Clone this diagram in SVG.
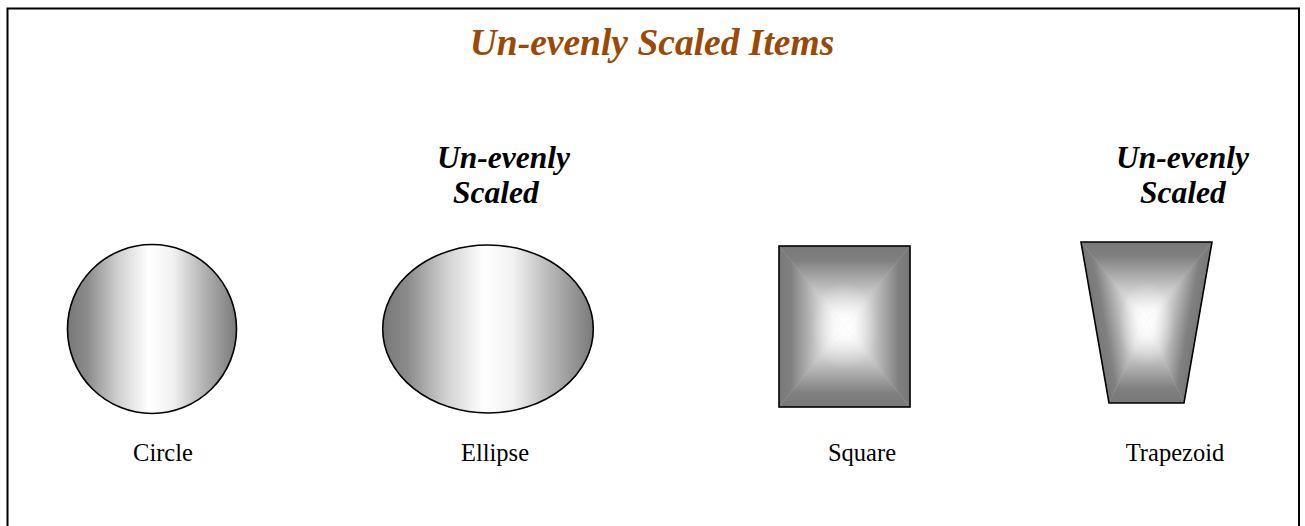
<svg xmlns="http://www.w3.org/2000/svg" width="1305" height="526" viewBox="0 0 1305 526">
<style>
.title{font-family:"Liberation Serif","Times New Roman",serif;font-size:37.5px;font-weight:bold;font-style:italic;fill:#9a4a06}
.note{font-family:"Liberation Serif","Times New Roman",serif;font-size:31.5px;font-weight:bold;font-style:italic;fill:#000}
.lbl{font-family:"Liberation Serif","Times New Roman",serif;font-size:24.5px;fill:#000;text-anchor:middle}
.outline{fill:none;stroke:#000;stroke-width:1.6}
</style>
<defs>
<linearGradient id="hband" x1="0" y1="0" x2="1" y2="0">
<stop offset="0" stop-color="#777"/>
<stop offset="0.12" stop-color="#8c8c8c"/>
<stop offset="0.3" stop-color="#d0d0d0"/>
<stop offset="0.48" stop-color="#fff"/>
<stop offset="0.62" stop-color="#f2f2f2"/>
<stop offset="0.8" stop-color="#b5b5b5"/>
<stop offset="1" stop-color="#7a7a7a"/>
</linearGradient>
<linearGradient id="gT" x1="0" y1="0" x2="0" y2="1"><stop offset="0" stop-color="#787878"/><stop offset="0.18" stop-color="#808080"/><stop offset="0.55" stop-color="#c4c4c4"/><stop offset="0.85" stop-color="#f6f6f6"/><stop offset="1" stop-color="#fff"/></linearGradient>
<linearGradient id="gB" x1="0" y1="1" x2="0" y2="0"><stop offset="0" stop-color="#787878"/><stop offset="0.18" stop-color="#808080"/><stop offset="0.55" stop-color="#c4c4c4"/><stop offset="0.85" stop-color="#f6f6f6"/><stop offset="1" stop-color="#fff"/></linearGradient>
<linearGradient id="gL" x1="0" y1="0" x2="1" y2="0"><stop offset="0" stop-color="#787878"/><stop offset="0.18" stop-color="#808080"/><stop offset="0.55" stop-color="#c4c4c4"/><stop offset="0.85" stop-color="#f6f6f6"/><stop offset="1" stop-color="#fff"/></linearGradient>
<linearGradient id="gR" x1="1" y1="0" x2="0" y2="0"><stop offset="0" stop-color="#787878"/><stop offset="0.18" stop-color="#808080"/><stop offset="0.55" stop-color="#c4c4c4"/><stop offset="0.85" stop-color="#f6f6f6"/><stop offset="1" stop-color="#fff"/></linearGradient>
<linearGradient id="tT" gradientUnits="userSpaceOnUse" x1="1146.5" y1="242" x2="1146.5" y2="322"><stop offset="0" stop-color="#787878"/><stop offset="0.18" stop-color="#808080"/><stop offset="0.55" stop-color="#c4c4c4"/><stop offset="0.85" stop-color="#f6f6f6"/><stop offset="1" stop-color="#fff"/></linearGradient>
<linearGradient id="tB" gradientUnits="userSpaceOnUse" x1="1146.5" y1="403" x2="1146.5" y2="322"><stop offset="0" stop-color="#787878"/><stop offset="0.18" stop-color="#808080"/><stop offset="0.55" stop-color="#c4c4c4"/><stop offset="0.85" stop-color="#f6f6f6"/><stop offset="1" stop-color="#fff"/></linearGradient>
<linearGradient id="tL" gradientUnits="userSpaceOnUse" x1="1096.4" y1="330.7" x2="1146.5" y2="322"><stop offset="0" stop-color="#787878"/><stop offset="0.18" stop-color="#808080"/><stop offset="0.55" stop-color="#c4c4c4"/><stop offset="0.85" stop-color="#f6f6f6"/><stop offset="1" stop-color="#fff"/></linearGradient>
<linearGradient id="tR" gradientUnits="userSpaceOnUse" x1="1196.6" y1="330.7" x2="1146.5" y2="322"><stop offset="0" stop-color="#787878"/><stop offset="0.18" stop-color="#808080"/><stop offset="0.55" stop-color="#c4c4c4"/><stop offset="0.85" stop-color="#f6f6f6"/><stop offset="1" stop-color="#fff"/></linearGradient>
<radialGradient id="glow" cx="0.5" cy="0.5" r="0.5"><stop offset="0" stop-color="#fff" stop-opacity="0.6"/><stop offset="0.5" stop-color="#fff" stop-opacity="0.3"/><stop offset="1" stop-color="#fff" stop-opacity="0"/></radialGradient>
</defs>
<rect x="0" y="0" width="1305" height="526" fill="#fff"/>
<rect id="frame" x="7.5" y="8.5" width="1291.5" height="600" fill="none" stroke="#000" stroke-width="2"/>
<text id="title" class="title" x="652" y="55" text-anchor="middle">Un-evenly Scaled Items</text>

<g id="circle">
<circle cx="152" cy="329" r="84.5" fill="url(#hband)" stroke="#000" stroke-width="1.6"/>
<text class="lbl" x="163" y="461">Circle</text>
</g>

<g id="ellipse">
<text class="note" x="437" y="168">Un-evenly</text>
<text class="note" x="453" y="203">Scaled</text>
<ellipse cx="488" cy="329" rx="105.3" ry="84" fill="url(#hband)" stroke="#000" stroke-width="1.6"/>
<text class="lbl" x="495" y="461">Ellipse</text>
</g>

<g id="square">
<rect x="779" y="246" width="131" height="161" fill="#bbb"/>
<polygon points="779,246 910,246 844.5,326.5" fill="url(#gT)"/>
<polygon points="779,407 910,407 844.5,326.5" fill="url(#gB)"/>
<polygon points="779,246 779,407 844.5,326.5" fill="url(#gL)"/>
<polygon points="910,246 910,407 844.5,326.5" fill="url(#gR)"/>
<ellipse cx="844.5" cy="326.5" rx="34" ry="44" fill="url(#glow)"/>
<rect class="outline" x="779" y="246" width="131" height="161" stroke-width="2"/>
<text class="lbl" x="862" y="461">Square</text>
</g>

<g id="trapezoid">
<text class="note" x="1116" y="168">Un-evenly</text>
<text class="note" x="1140" y="203">Scaled</text>
<polygon points="1081,242 1212,242 1184,403 1109,403" fill="#bbb"/>
<polygon points="1081,242 1212,242 1146.5,322" fill="url(#tT)"/>
<polygon points="1109,403 1184,403 1146.5,322" fill="url(#tB)"/>
<polygon points="1081,242 1109,403 1146.5,322" fill="url(#tL)"/>
<polygon points="1212,242 1184,403 1146.5,322" fill="url(#tR)"/>
<ellipse cx="1146.5" cy="324" rx="28" ry="42" fill="url(#glow)"/>
<polygon class="outline" points="1081,242 1212,242 1184,403 1109,403"/>
<text class="lbl" x="1175" y="461">Trapezoid</text>
</g>
</svg>
